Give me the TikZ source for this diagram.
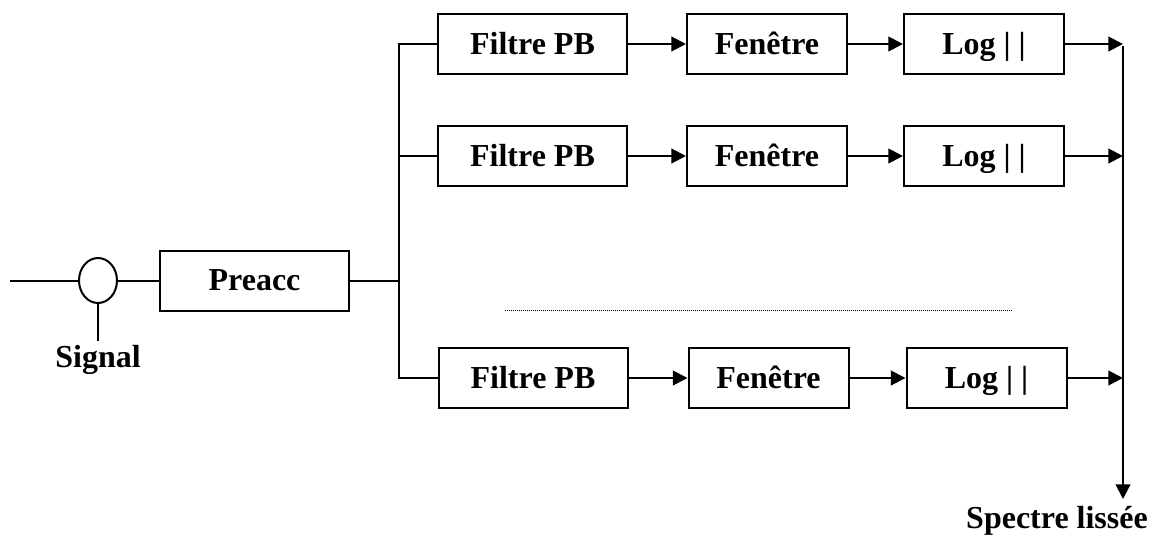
\documentclass[tikz,border=0pt]{standalone}
\usepackage{fontspec}
\setmainfont{Liberation Serif}
\usetikzlibrary{arrows.meta,shapes.geometric}
\begin{document}
\begin{tikzpicture}[x=0.75pt,y=-0.75pt,
  line width=1.5pt,
  every node/.style={font=\fontsize{24}{28}\selectfont\bfseries},
  blk/.style={draw, rectangle, inner sep=0pt, minimum height=45pt, text height=15.5pt, text depth=0.5pt},
  wbox/.style={blk, minimum width=141.75pt},
  nbox/.style={blk, minimum width=120pt},
  arr/.style={-{Triangle[length=11pt,width=11pt]}},
  lbl/.style={anchor=base, inner sep=0pt}
]
\useasboundingbox (0,0) rectangle (1156,537);
% input
\coordinate (in) at (10,281);
\node[draw, ellipse, inner sep=0pt, minimum width=28.5pt, minimum height=33.75pt] (sum) at (98,280.5) {};
\node[wbox] (pre) at (254.5,280.5) {Preacc};
\node[lbl] (sig) at (98,367) {Signal};
\draw (in) -- (in -| sum.west);
\draw (sum.east) -- (pre.west);
\draw (sum.south) -- (sum.south |- 0,341);
% rows
\node[wbox] (f1) at (532.5,44) {Filtre PB};
\node[nbox] (w1) at (767,44) {Fenêtre};
\node[nbox] (l1) at (984,44) {Log | |};
\node[wbox] (f2) at (532.5,156) {Filtre PB};
\node[nbox] (w2) at (767,156) {Fenêtre};
\node[nbox] (l2) at (984,156) {Log | |};
\node[wbox] (f3) at (533,378) {Filtre PB};
\node[nbox] (w3) at (768.5,378) {Fenêtre};
\node[nbox] (l3) at (986.5,378) {Log | |};
% bus
\coordinate (busT) at (399,44);
\coordinate (busB) at (399,378);
\draw (f1.west) -- (busT) -- (busB) -- (f3.west);
\draw (f2.west) -- (f2.west -| busT);
\draw (pre.east) -- (pre.east -| busT);
% arrows
\foreach \i in {1,2,3}{
  \draw[arr] (f\i.east) -- (w\i.west);
  \draw[arr] (w\i.east) -- (l\i.west);
}
\coordinate (outT) at (1123,46);
\coordinate (outB) at (1123,499);
\foreach \i in {1,2,3}{
  \draw[arr] (l\i.east) -- (l\i.east -| outT);
}
\draw[arr] (outT) -- (outB);
\node[lbl] (spec) at (1057,528) {Spectre lissée};
% dotted
\coordinate (dL) at (505,310);
\coordinate (dR) at (1012,310);
\draw[line width=0.6pt, dash pattern=on 0.6pt off 0.9pt] (dL) -- (dR);
\end{tikzpicture}
\end{document}
